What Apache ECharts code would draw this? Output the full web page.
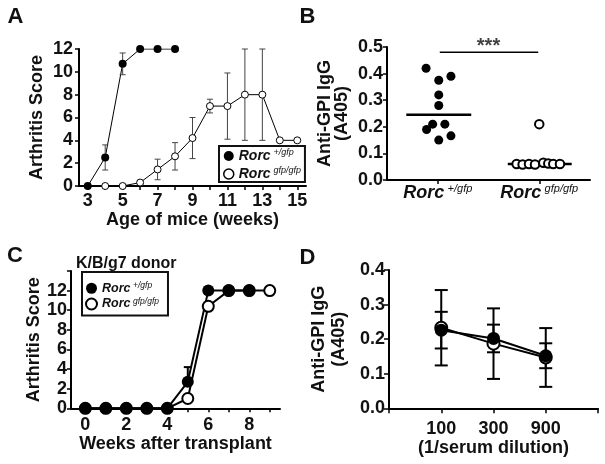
<!DOCTYPE html>
<html><head><meta charset="utf-8">
<script src="https://cdn.jsdelivr.net/npm/echarts@6/dist/echarts.min.js"></script>
<style>html,body{margin:0;padding:0;background:#fff}#c{width:605px;height:464px}</style>
</head><body><div id="c"></div>
<script>
// ---------- Panel A : arthritis score vs age ----------
const aTickWeeks = [3,4,5,6,7,8,9,10,11,12,13,14,15];
const aLabelWeeks = [3,5,7,9,11,13,15];
const aHetWeeks = [3,4,5,6,7,8];
const aHetScore = [0,2.5,10.7,12,12,12];
const aHetErr   = [0,1.1,0.95,0,0,0];
const aKoWeeks = [4,5,6,7,8,9,10,11,12,13,14,15];
const aKoScore = [0,0,0.3,1.45,2.6,4.2,7,7,8,8,4,4];
const aKoErr   = [0,0,0.2,0.9,1.2,1.8,0.6,2.9,4,4,0,0];
// ---------- Panel B : anti-GPI IgG per genotype ----------
const bGenotypes = ['+/gfp','gfp/gfp'];
const bHetValues = [0.42,0.375,0.39,0.32,0.28,0.21,0.21,0.19,0.166,0.15];
const bHetJitter = [-0.115,0.01,0.13,0.01,0.01,-0.05,0.07,-0.11,0.13,0.01];
const bKoValues  = [0.21,0.06,0.058,0.06,0.058,0.065,0.062,0.06,0.06];
const bKoJitter  = [0,-0.223,-0.164,-0.101,-0.042,0.04,0.089,0.138,0.204];
const bSigY = 0.48;
const bSigText = '***';
// ---------- Panel C : arthritis after transplant ----------
const cTickWeeks = [0,1,2,3,4,5,6,7,8,9];
const cLabelWeeks = [0,2,4,6,8];
const cHetWeeks = [0,1,2,3,4,5,6,7,8];
const cHetScore = [0,0,0,0,0,2.7,12,12,12];
const cHetErr   = [0,0,0,0,0,1.5,0,0,0];
const cKoWeeks = [0,1,2,3,4,5,6,7,8,9];
const cKoScore = [0,0,0,0,0,1,10.4,12,12,12];
// ---------- Panel D : anti-GPI IgG vs dilution ----------
const dDilutions = ['100','300','900'];
const dHetValues = [0.226,0.202,0.152];
const dHetErr    = [0.053,0.04,0.036];
const dKoValues  = [0.233,0.187,0.147];
const dKoErr     = [0.109,0.102,0.085];

const F = '"Liberation Sans", Arial, sans-serif';
const TXT = '#111';
const lbl = {fontSize:18, fontWeight:'bold', fontFamily:F, color:TXT};
const nameStyle = {fontSize:18, fontWeight:'bold', fontFamily:F, color:TXT};
const axLine = {show:true, onZero:false, lineStyle:{color:'#000', width:2}};
const tick = {show:true, length:4, lineStyle:{color:'#000', width:1.5}};

function zip(xs, ys, es){ return xs.map((x,i)=> es ? [x, ys[i], es[i]] : [x, ys[i]]); }
function jitterPoints(groupIndex, offsets, values){ return values.map((v,i)=>[groupIndex + offsets[i], v]); }
function median(a){ const s=[...a].sort((p,q)=>p-q); const n=s.length; return n%2? s[(n-1)/2] : (s[n/2-1]+s[n/2])/2; }
function errorBars(capHalf, width, color, upOnly){
  return function(params, api){
    const x = api.value(0), m = api.value(1), e = api.value(2);
    if (!e) return null;
    const t = api.coord([x, m + e]);
    const b = api.coord([x, upOnly ? m : m - e]);
    const st = {stroke: color, lineWidth: width};
    const ch = [
      {type:'line', shape:{x1:t[0],y1:t[1],x2:b[0],y2:b[1]}, style:st},
      {type:'line', shape:{x1:t[0]-capHalf,y1:t[1],x2:t[0]+capHalf,y2:t[1]}, style:st}
    ];
    if (!upOnly) ch.push({type:'line', shape:{x1:b[0]-capHalf,y1:b[1],x2:b[0]+capHalf,y2:b[1]}, style:st});
    return {type:'group', children: ch};
  };
}
const richSup = (big, small) => ({
  r:{fontSize:big, fontWeight:'bold', fontStyle:'italic', fontFamily:F, color:TXT, lineHeight:big+2},
  s:{fontSize:small, fontStyle:'italic', fontFamily:F, color:TXT, verticalAlign:'top', lineHeight:small+1}
});
const genoFmt = name => '{r|Rorc} {s|' + (name.indexOf('gfp/gfp') >= 0 ? 'gfp/gfp' : '+/gfp') + '}';

const chart = echarts.init(document.getElementById('c'), null, {renderer:'canvas'});
const bMed1 = median(bHetValues), bMed2 = median(bKoValues);

const option = {
  animation:false,
  backgroundColor:'#fff',
  grid:[
    {left:79, top:49, width:227, height:137},
    {left:387, top:47, width:203, height:133},
    {left:71, top:271, width:209, height:137.3},
    {left:389, top:270, width:209, height:138.3}
  ],
  xAxis:[
    {gridIndex:0, type:'value', min:2.5, max:15.5, axisLine:axLine,
     axisTick:Object.assign({customValues:aTickWeeks}, tick),
     axisLabel:Object.assign({customValues:aLabelWeeks, margin:6}, lbl),
     splitLine:{show:false}, name:'Age of mice (weeks)', nameLocation:'middle', nameGap:25, nameTextStyle:nameStyle},
    {gridIndex:1, type:'value', min:-0.5, max:1.5, axisLine:axLine,
     axisTick:Object.assign({customValues:[0,1]}, tick),
     axisLabel:{customValues:[0,1], margin:3, fontSize:12, fontFamily:F, color:TXT,
       formatter: v => genoFmt(bGenotypes[Math.round(v)]), rich: richSup(18,11)},
     splitLine:{show:false}},
    {gridIndex:2, type:'value', min:-0.7, max:9.5, axisLine:axLine,
     axisTick:Object.assign({customValues:cTickWeeks}, tick),
     axisLabel:Object.assign({customValues:cLabelWeeks, margin:8}, lbl),
     splitLine:{show:false}, name:'Weeks after transplant', nameLocation:'middle', nameGap:25, nameTextStyle:nameStyle},
    {gridIndex:3, type:'value', min:-1, max:3, interval:1, axisLine:axLine,
     axisTick:Object.assign({}, tick, {length:5}),
     axisLabel:Object.assign({margin:12, formatter: v => dDilutions[v] !== undefined ? dDilutions[v] : ''}, lbl),
     splitLine:{show:false}, name:'(1/serum dilution)', nameLocation:'middle', nameGap:31, nameTextStyle:nameStyle}
  ],
  yAxis:[
    {gridIndex:0, type:'value', min:0, max:12, interval:2, axisLine:axLine, axisTick:tick,
     axisLabel:Object.assign({margin:6}, lbl), splitLine:{show:false},
     name:'Arthritis Score', nameLocation:'middle', nameRotate:90, nameGap:33, nameTextStyle:nameStyle},
    {gridIndex:1, type:'value', min:0, max:0.5, interval:0.1, axisLine:axLine, axisTick:tick,
     axisLabel:Object.assign({margin:4, formatter: v => v.toFixed(1)}, lbl), splitLine:{show:false},
     name:'Anti-GPI IgG\n(A405)', nameLocation:'middle', nameRotate:90, nameGap:36,
     nameTextStyle:Object.assign({lineHeight:17}, nameStyle)},
    {gridIndex:2, type:'value', min:0, max:14, interval:2, axisLine:axLine, axisTick:tick,
     axisLabel:Object.assign({margin:4, formatter: v => v > 12 ? '' : String(v)}, lbl), splitLine:{show:false},
     name:'Arthritis Score', nameLocation:'middle', nameRotate:90, nameGap:25, nameTextStyle:nameStyle},
    {gridIndex:3, type:'value', min:0, max:0.4, interval:0.1, axisLine:axLine, axisTick:Object.assign({}, tick, {length:5}),
     axisLabel:Object.assign({margin:4, formatter: v => v.toFixed(1)}, lbl), splitLine:{show:false},
     name:'Anti-GPI IgG\n(A405)', nameLocation:'middle', nameRotate:90, nameGap:40,
     nameTextStyle:Object.assign({lineHeight:20}, nameStyle)}
  ],
  legend:[
    {data:[
       {name:'A Rorc +/gfp', icon:'circle', itemStyle:{color:'#000', borderWidth:0}},
       {name:'A Rorc gfp/gfp', icon:'circle', itemStyle:{color:'#fff', borderColor:'#000', borderWidth:1.5}}],
     left:219, top:146, orient:'vertical', itemWidth:10, itemHeight:10, itemGap:3, itemTextGap:4,
     padding:[2,4,1,4], borderColor:'#111', borderWidth:2, selectedMode:false,
     formatter: genoFmt, textStyle:{fontSize:10, fontFamily:F, color:TXT, rich: richSup(14,9)}},
    {data:[
       {name:'C Rorc +/gfp', icon:'circle', itemStyle:{color:'#000', borderWidth:0}},
       {name:'C Rorc gfp/gfp', icon:'circle', itemStyle:{color:'#fff', borderColor:'#000', borderWidth:2}}],
     left:82, top:272, orient:'vertical', itemWidth:11, itemHeight:11, itemGap:2, itemTextGap:6,
     padding:[9,9,5,3], borderColor:'#111', borderWidth:2, selectedMode:false,
     formatter: genoFmt, textStyle:{fontSize:9, fontFamily:F, color:TXT, rich: richSup(12.5,8.5)}}
  ],
  graphic:[
    {type:'text', style:{x:15.5, y:16.5, text:'A', textAlign:'center', textVerticalAlign:'middle', font:'bold 22px '+F, fill:TXT}},
    {type:'text', style:{x:307.5, y:16.5, text:'B', textAlign:'center', textVerticalAlign:'middle', font:'bold 22px '+F, fill:TXT}},
    {type:'text', style:{x:15, y:255.5, text:'C', textAlign:'center', textVerticalAlign:'middle', font:'bold 22px '+F, fill:TXT}},
    {type:'text', style:{x:307.5, y:258, text:'D', textAlign:'center', textVerticalAlign:'middle', font:'bold 22px '+F, fill:TXT}},
    {type:'text', style:{x:76, y:264, text:'K/B/g7 donor', textAlign:'left', textVerticalAlign:'middle', font:'bold 16px '+F, fill:TXT}}
  ],
  series:[
    // ----- A -----
    {type:'line', xAxisIndex:0, yAxisIndex:0, data:zip(aHetWeeks,aHetScore), symbol:'none', lineStyle:{color:'#000', width:1}, z:1},
    {type:'line', xAxisIndex:0, yAxisIndex:0, data:zip(aKoWeeks,aKoScore), symbol:'none', lineStyle:{color:'#000', width:1}, z:1},
    {type:'custom', xAxisIndex:0, yAxisIndex:0, data:zip(aHetWeeks,aHetScore,aHetErr), renderItem:errorBars(3,1,'#444',false), encode:{x:0,y:1}, z:2},
    {type:'custom', xAxisIndex:0, yAxisIndex:0, data:zip(aKoWeeks,aKoScore,aKoErr), renderItem:errorBars(3,1,'#444',false), encode:{x:0,y:1}, z:2},
    {name:'A Rorc +/gfp', type:'scatter', xAxisIndex:0, yAxisIndex:0, data:zip(aHetWeeks,aHetScore), symbolSize:8, itemStyle:{color:'#000', opacity:1}, z:3},
    {name:'A Rorc gfp/gfp', type:'scatter', xAxisIndex:0, yAxisIndex:0, data:zip(aKoWeeks,aKoScore), symbolSize:7, itemStyle:{color:'#fff', borderColor:'#000', borderWidth:1, opacity:1}, z:3},
    // ----- B -----
    {type:'line', xAxisIndex:1, yAxisIndex:1, data:[[-0.31,bMed1],[0.33,bMed1]], symbol:'none', lineStyle:{color:'#000', width:2.5}, z:1},
    {type:'line', xAxisIndex:1, yAxisIndex:1, data:[[1-0.31,bMed2],[1+0.32,bMed2]], symbol:'none', lineStyle:{color:'#000', width:2.5}, z:1},
    {type:'line', xAxisIndex:1, yAxisIndex:1, data:[[0.02,bSigY],[0.99,bSigY]], symbol:'none', lineStyle:{color:'#000', width:1.5}, z:1},
    {type:'scatter', xAxisIndex:1, yAxisIndex:1, data:[[0.5,bSigY]], symbolSize:1, itemStyle:{color:'rgba(0,0,0,0)'},
     label:{show:true, position:'top', distance:-5, formatter:bSigText, fontSize:20, fontWeight:'bold', fontFamily:F, color:TXT}, z:1},
    {type:'scatter', xAxisIndex:1, yAxisIndex:1, data:jitterPoints(0,bHetJitter,bHetValues), symbolSize:9, itemStyle:{color:'#000', opacity:1}, z:3},
    {type:'scatter', xAxisIndex:1, yAxisIndex:1, data:jitterPoints(1,bKoJitter,bKoValues), symbolSize:8.5, itemStyle:{color:'#fff', borderColor:'#000', borderWidth:2, opacity:1}, z:3},
    // ----- C -----
    {type:'line', xAxisIndex:2, yAxisIndex:2, data:zip(cKoWeeks,cKoScore), symbol:'none', lineStyle:{color:'#000', width:2}, z:1},
    {type:'line', xAxisIndex:2, yAxisIndex:2, data:zip(cHetWeeks,cHetScore), symbol:'none', lineStyle:{color:'#000', width:2}, z:1},
    {type:'custom', xAxisIndex:2, yAxisIndex:2, data:zip(cHetWeeks,cHetScore,cHetErr), renderItem:errorBars(4,2,'#000',true), encode:{x:0,y:1}, z:2},
    {name:'C Rorc gfp/gfp', type:'scatter', xAxisIndex:2, yAxisIndex:2, data:zip(cKoWeeks,cKoScore), symbolSize:11, itemStyle:{color:'#fff', borderColor:'#000', borderWidth:2, opacity:1}, z:3},
    {name:'C Rorc +/gfp', type:'scatter', xAxisIndex:2, yAxisIndex:2, data:zip(cHetWeeks,cHetScore), symbolSize:12, itemStyle:{color:'#000', opacity:1}, z:4},
    // ----- D -----
    {type:'custom', xAxisIndex:3, yAxisIndex:3, data:zip([0,1,2],dKoValues,dKoErr), renderItem:errorBars(6.5,2,'#000',false), encode:{x:0,y:1}, z:1},
    {type:'custom', xAxisIndex:3, yAxisIndex:3, data:zip([0,1,2],dHetValues,dHetErr), renderItem:errorBars(6.5,2,'#000',false), encode:{x:0,y:1}, z:1},
    {type:'line', xAxisIndex:3, yAxisIndex:3, data:zip([0,1,2],dKoValues), symbol:'circle', symbolSize:12, showAllSymbol:true,
     lineStyle:{color:'#000', width:2}, itemStyle:{color:'#fff', borderColor:'#000', borderWidth:2}, z:2},
    {type:'line', xAxisIndex:3, yAxisIndex:3, data:zip([0,1,2],dHetValues), symbol:'circle', symbolSize:13, showAllSymbol:true,
     lineStyle:{color:'#000', width:2}, itemStyle:{color:'#000'}, z:3}
  ]
};
chart.setOption(option);
</script></body></html>
